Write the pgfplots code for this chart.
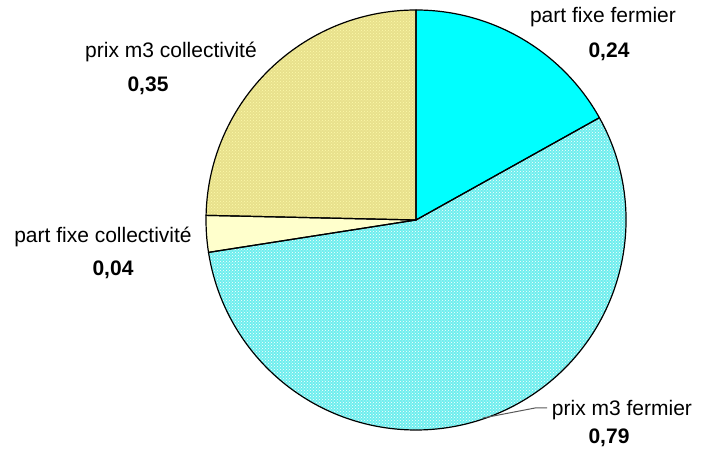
\documentclass[border=0pt]{standalone}
\usepackage{pgfplots}
\pgfplotsset{compat=1.18}
\usepackage{pgfplotstable}
\usetikzlibrary{patterns}
\usepackage{fontspec}
\setmainfont{Liberation Sans}

\definecolor{pffermier}{RGB}{0,255,255}
\definecolor{pmfermier}{RGB}{110,238,238}
\definecolor{pfcoll}{RGB}{255,255,204}
\definecolor{pmcoll}{RGB}{232,224,140}
\definecolor{pmcolldot}{RGB}{252,250,170}

\pgfplotstableread[col sep=comma]{
label,value,lx,ly,vx,vy
part fixe fermier,0.24,603,435,609,400
prix m3 fermier,0.79,622,42,609,14
part fixe collectivité,0.04,103,215,113,182
prix m3 collectivité,0.35,171,400,148,366
}\piedata

\newcommand\lbl[1]{%
  \pgfplotstablegetelem{#1}{label}\of\piedata\edef\tmpL{\pgfplotsretval}%
  \pgfplotstablegetelem{#1}{value}\of\piedata\edef\tmpV{\pgfplotsretval}%
  \pgfplotstablegetelem{#1}{lx}\of\piedata\edef\tmpLX{\pgfplotsretval}%
  \pgfplotstablegetelem{#1}{ly}\of\piedata\edef\tmpLY{\pgfplotsretval}%
  \pgfplotstablegetelem{#1}{vx}\of\piedata\edef\tmpVX{\pgfplotsretval}%
  \pgfplotstablegetelem{#1}{vy}\of\piedata\edef\tmpVY{\pgfplotsretval}%
  \edef\tmp{\noexpand\node[inner sep=0pt,font=\noexpand\fontsize{21}{25}\noexpand\selectfont] at (axis cs:\tmpLX,\tmpLY) {\tmpL};
    \noexpand\node[inner sep=0pt,font=\noexpand\fontsize{21}{25}\noexpand\selectfont\noexpand\bfseries] at (axis cs:\tmpVX,\tmpVY) {\noexpand\pgfmathprintnumber[assume math mode=true,use comma,fixed,fixed zerofill,precision=2]{\tmpV}};}%
  \tmp
}

\begin{document}
\begin{tikzpicture}
\useasboundingbox (0,0) rectangle (701pt,452pt);
\pgfplotstablegetelem{0}{value}\of\piedata\edef\vA{\pgfplotsretval}
\pgfplotstablegetelem{1}{value}\of\piedata\edef\vB{\pgfplotsretval}
\pgfplotstablegetelem{2}{value}\of\piedata\edef\vC{\pgfplotsretval}
\pgfplotstablegetelem{3}{value}\of\piedata\edef\vD{\pgfplotsretval}
\pgfmathsetmacro\tot{\vA+\vB+\vC+\vD}
\pgfmathsetmacro\aA{90}
\pgfmathsetmacro\aB{\aA-360*\vA/\tot}
\pgfmathsetmacro\aC{\aB-360*\vB/\tot}
\pgfmathsetmacro\aD{\aC-360*\vC/\tot}
\pgfmathsetmacro\aE{\aD-360*\vD/\tot}
\begin{axis}[at={(0,0)},anchor=south west,scale only axis,
  width=701pt,height=452pt,xmin=0,xmax=701,ymin=0,ymax=452,
  hide axis,clip=false]
% slices
\path[fill=pffermier] (axis cs:416,232) -- ++(\aA:210pt) arc[start angle=\aA,end angle=\aB,radius=210pt] -- cycle;
\path[fill=pmfermier,postaction={pattern=crosshatch dots,pattern color=white}] (axis cs:416,232) -- ++(\aB:210pt) arc[start angle=\aB,end angle=\aC,radius=210pt] -- cycle;
\path[fill=pfcoll] (axis cs:416,232) -- ++(\aC:210pt) arc[start angle=\aC,end angle=\aD,radius=210pt] -- cycle;
\path[fill=pmcoll,postaction={pattern=crosshatch dots,pattern color=pmcolldot}] (axis cs:416,232) -- ++(\aD:210pt) arc[start angle=\aD,end angle=\aE,radius=210pt] -- cycle;
% outlines
\draw[black,line width=1.2pt,line join=round] (axis cs:416,232) -- ++(\aA:210pt) arc[start angle=\aA,end angle=\aB,radius=210pt] -- cycle;
\draw[black,line width=1.2pt,line join=round] (axis cs:416,232) -- ++(\aB:210pt) arc[start angle=\aB,end angle=\aC,radius=210pt] -- cycle;
\draw[black,line width=1.2pt,line join=round] (axis cs:416,232) -- ++(\aC:210pt) arc[start angle=\aC,end angle=\aD,radius=210pt] -- cycle;
\draw[black,line width=1.2pt,line join=round] (axis cs:416,232) -- ++(\aD:210pt) arc[start angle=\aD,end angle=\aE,radius=210pt] -- cycle;
% leader line
\draw[gray!70!black,line width=1pt] (axis cs:483,34) -- (axis cs:535,44) -- (axis cs:547,44);
% labels
\lbl{0}
\lbl{1}
\lbl{2}
\lbl{3}
\end{axis}
\end{tikzpicture}
\end{document}
